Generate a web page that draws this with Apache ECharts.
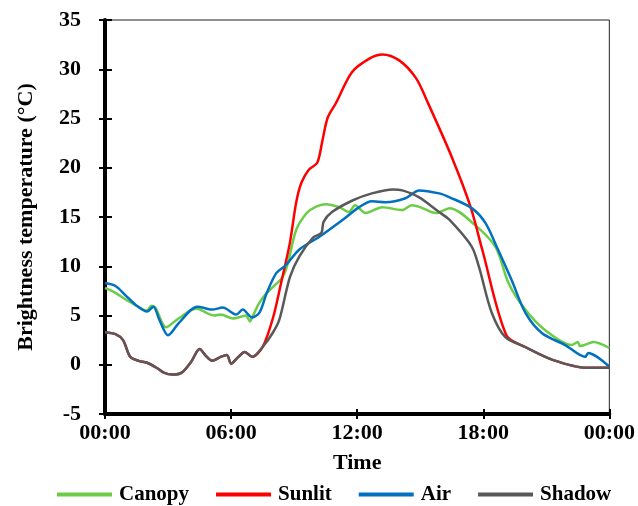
<!DOCTYPE html>
<html style="height: 100%">
<head>
    <meta charset="utf-8">
</head>
<body style="height: 100%; margin: 0; background: #fff">
<div id="container" style="width: 638px; height: 506px"></div>
<script src="https://cdn.jsdelivr.net/npm/echarts@6/dist/echarts.min.js"></script>
<script>
// [hour, brightness temperature °C]
var canopy = [
    [0, 7.8], [0.5, 7.3], [1, 6.6], [1.5, 6.0], [2.0, 5.5], [2.2, 6.0], [2.4, 5.8], [2.9, 3.8],
    [3.5, 4.7], [4.35, 5.7], [4.8, 5.3], [5.2, 5.0], [5.5, 5.1], [6.1, 4.7], [6.5, 4.9], [6.7, 5.0],
    [6.9, 4.4], [7.0, 4.8], [7.35, 6.3], [7.7, 7.3], [8.0, 7.9], [8.45, 8.9], [8.7, 10.3], [9.1, 13.7],
    [9.6, 15.4], [10.0, 16.0], [10.5, 16.3], [11.15, 16.0], [11.6, 15.5], [11.9, 16.2], [12.4, 15.4],
    [13.2, 16.0], [14.15, 15.7], [14.6, 16.2], [15.0, 16.0], [15.75, 15.4], [16.4, 15.9], [17.6, 14.2],
    [18.6, 11.9], [19.2, 8.3], [20.0, 5.6], [20.95, 3.5], [22.2, 2.0], [22.5, 2.3], [22.6, 1.9],
    [22.8, 2.0], [23.25, 2.3], [24, 1.7]
];
var sunlit = [
    [0, 3.3], [0.5, 3.1], [0.86, 2.5], [1.2, 0.8], [1.6, 0.4], [2.0, 0.2], [2.45, -0.3], [2.8, -0.8],
    [3.2, -1.0], [3.65, -0.8], [4.1, 0.3], [4.5, 1.6], [4.8, 0.9], [5.1, 0.4], [5.5, 0.8], [5.8, 1.0],
    [6.0, 0.1], [6.3, 0.7], [6.65, 1.3], [7.0, 0.8], [7.5, 1.8], [8.0, 4.8], [8.4, 8.5], [8.8, 12.4],
    [9.1, 16.5], [9.35, 18.5], [9.7, 19.8], [10.1, 20.5], [10.35, 22.8], [10.6, 25.1], [11.0, 26.6],
    [11.75, 29.7], [12.6, 31.1], [13.2, 31.5], [14.0, 30.9], [14.8, 29.1], [15.3, 26.9], [16.5, 21.1],
    [17.4, 16.0], [17.95, 11.7], [19.1, 3.0], [20.0, 1.8], [21.3, 0.5], [22.9, -0.3], [24, -0.3]
];
var air = [
    [0, 8.3], [0.5, 8.0], [1, 7.0], [1.5, 6.0], [2.0, 5.4], [2.3, 5.9], [2.6, 4.5], [3.0, 3.0],
    [3.5, 4.2], [4.4, 5.9], [5.1, 5.6], [5.6, 5.8], [6.25, 5.1], [6.55, 5.6], [7.0, 4.8], [7.35, 5.3],
    [7.7, 7.3], [8.15, 9.3], [8.6, 10.1], [9.25, 11.7], [10.2, 13.0], [11.3, 14.7], [12.1, 16.0],
    [12.7, 16.6], [13.35, 16.5], [14.3, 16.9], [14.95, 17.7], [15.9, 17.4], [16.4, 17.0], [17.45, 15.9],
    [18.1, 14.4], [18.7, 11.7], [19.35, 8.6], [20.0, 5.3], [20.8, 3.2], [21.9, 2.0], [22.85, 0.8],
    [23.0, 1.2], [24, -0.2]
];
var shadow = [
    [0, 3.3], [0.5, 3.1], [0.86, 2.5], [1.2, 0.8], [1.6, 0.4], [2.0, 0.2], [2.45, -0.3], [2.8, -0.8],
    [3.2, -1.0], [3.65, -0.8], [4.1, 0.3], [4.5, 1.6], [4.8, 0.9], [5.1, 0.4], [5.5, 0.8], [5.8, 1.0],
    [6.0, 0.1], [6.3, 0.7], [6.65, 1.3], [7.0, 0.8], [7.5, 1.8], [8.0, 3.3], [8.3, 4.6], [8.8, 8.9],
    [9.25, 11.0], [9.9, 12.9], [10.3, 13.4], [10.4, 14.5], [10.8, 15.5], [11.8, 16.7], [12.7, 17.4],
    [13.7, 17.8], [14.15, 17.7], [14.95, 17.0], [15.9, 15.5], [16.4, 14.7], [17.45, 12.0], [17.8, 9.9],
    [18.4, 5.3], [19.05, 2.8], [20.0, 1.8], [21.3, 0.5], [22.9, -0.3], [24, -0.3]
];
var seriesNames = ['Canopy', 'Sunlit', 'Air', 'Shadow'];
var seriesColors = ['#6acd45', '#ff0000', '#0070c0', '#595959'];

var font = 'Liberation Serif';
var myChart = echarts.init(document.getElementById('container'));

function hourLabel(v) {
    var h = v % 24;
    return (h < 10 ? '0' : '') + h + ':00';
}

var textBold = {fontFamily: font, fontWeight: 'bold', fontSize: 22, color: '#000'};

var xBase = {
    type: 'value', min: 0, max: 24, interval: 6, position: 'bottom',
    splitLine: {show: false}
};
var yBase = {
    type: 'value', min: -5, max: 35, interval: 5, position: 'left',
    splitLine: {show: false}
};

var option = {
    animation: false,
    grid: {
        left: 105, right: 27, top: 20, bottom: 92,
        show: true, borderColor: '#222', borderWidth: 1
    },
    legend: {
        left: 57, top: 484, padding: 0,
        itemWidth: 55, itemHeight: 4, itemGap: 27,
        icon: 'rect',
        data: seriesNames,
        textStyle: Object.assign({}, textBold, {fontSize: 21, padding: [0, 0, 0, 2]})
    },
    xAxis: [
        Object.assign({}, xBase, {
            name: 'Time', nameLocation: 'middle', nameGap: 38,
            nameTextStyle: textBold,
            axisLine: {onZero: false, lineStyle: {color: '#000', width: 4}},
            axisTick: {inside: false, length: 5, lineStyle: {color: '#000', width: 2}},
            axisLabel: Object.assign({margin: 8, formatter: hourLabel}, textBold)
        }),
        Object.assign({}, xBase, {
            axisLine: {show: false, onZero: false},
            axisTick: {inside: true, length: 5, lineStyle: {color: '#000', width: 2}},
            axisLabel: {show: false}
        })
    ],
    yAxis: [
        Object.assign({}, yBase, {
            name: 'Brightness temperature (°C)', nameLocation: 'middle', nameGap: 68,
            nameTextStyle: textBold,
            axisLine: {onZero: false, lineStyle: {color: '#000', width: 4}},
            axisTick: {inside: false, length: 6, lineStyle: {color: '#000', width: 2}},
            axisLabel: Object.assign({margin: 24}, textBold)
        }),
        Object.assign({}, yBase, {
            axisLine: {show: false, onZero: false},
            axisTick: {inside: true, length: 7, lineStyle: {color: '#000', width: 2}},
            axisLabel: {show: false}
        })
    ],
    series: [canopy, sunlit, air, shadow].map(function (d, i) {
        return {
            name: seriesNames[i],
            type: 'line',
            data: d,
            smooth: 0.3,
            showSymbol: false,
            color: seriesColors[i],
            lineStyle: {width: 2.5, color: seriesColors[i]}
        };
    })
};

myChart.setOption(option);
</script>
</body>
</html>
